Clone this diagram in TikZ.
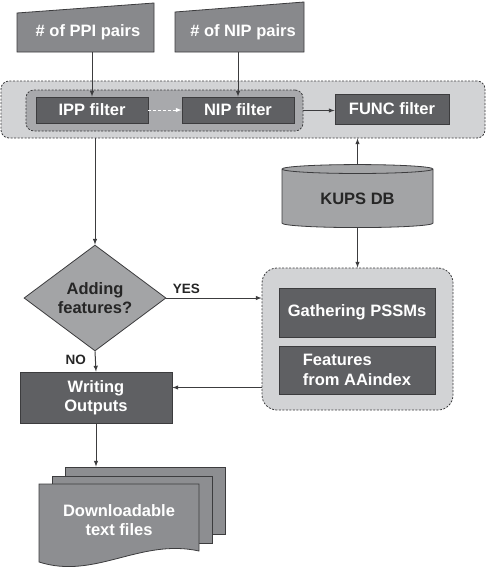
\documentclass[tikz,border=0pt]{standalone}
\usepackage{fontspec}
\setmainfont{Liberation Sans}
\usetikzlibrary{shapes.geometric}

\definecolor{edgec}{HTML}{3C3C3E}
\definecolor{boxdark}{HTML}{5F6063}
\definecolor{inputc}{HTML}{88898C}
\definecolor{grpl}{HTML}{D2D3D5}
\definecolor{grpm}{HTML}{A8A9AC}
\definecolor{dbc}{HTML}{A3A4A6}
\definecolor{docc}{HTML}{8D8E91}

\begin{document}
\begin{tikzpicture}[x=1pt, y=-1pt, >=latex,
  every node/.style={font=\fontsize{16.5}{19.5}\selectfont\bfseries, inner sep=0pt},
  proc/.style={draw=edgec, line width=0.8pt, fill=boxdark, text=white},
  group/.style={draw=edgec, line width=0.8pt, dash pattern=on 2pt off 1.5pt, rounded corners=8pt},
  sheet/.style={draw=edgec, line width=0.8pt, fill=docc, minimum width=160pt, minimum height=67pt},
  lbl/.style={font=\fontsize{13.5}{15}\selectfont\bfseries, text=black!85},
  flow/.style={->, draw=edgec, line width=1pt}]

  \useasboundingbox (0,0) rectangle (487,568);

  % inputs
  \filldraw[fill=inputc, draw=edgec, line width=0.8pt] (17,13) -- (154,3) -- (154,52) -- (17,52) -- cycle;
  \node[text=white, minimum width=137pt, minimum height=39pt] (ppi) at (88,32.5) {\# of PPI pairs};
  \filldraw[fill=inputc, draw=edgec, line width=0.8pt] (175,12) -- (304,2) -- (304,52) -- (175,52) -- cycle;
  \node[text=white, minimum width=129pt, minimum height=40pt] (nipin) at (243,32) {\# of NIP pairs};

  % filters
  \node[group, fill=grpl, minimum width=484pt, minimum height=57pt] (filters) at (243,109.5) {};
  \node[group, fill=grpm, minimum width=277pt, minimum height=41pt] (pair) at (164.5,110.5) {};
  \node[proc, minimum width=112pt, minimum height=26pt] (ipp) at (92,110) {IPP filter};
  \node[proc, minimum width=112pt, minimum height=26pt] (nip) at (238,110) {NIP filter};
  \node[proc, minimum width=114pt, minimum height=30pt] (func) at (392,109) {FUNC filter};

  % database and features
  \node[cylinder, shape border rotate=90, aspect=0.12, draw=edgec, line width=0.8pt, fill=dbc,
        text=black!85, minimum width=151pt, minimum height=63pt] (db) at (357.5,198.5) {KUPS DB};
  \node[group, fill=grpl, rounded corners=15pt, minimum width=191pt, minimum height=142pt] (feat) at (357.5,339) {};
  \node[proc, minimum width=156pt, minimum height=49pt] (pssm) at (357,312.5) {Gathering PSSMs};
  \node[proc, align=left, minimum width=156pt, minimum height=48pt] (aaidx) at (357,370) {Features\\from AAindex};

  % decision and output
  \node[diamond, draw=edgec, line width=0.8pt, fill=dbc, text=black!85, align=center,
        minimum width=142pt, minimum height=92pt] (ask) at (95,298) {Adding\\features?};
  \node[proc, align=center, minimum width=152pt, minimum height=51pt] (out) at (96,397.5) {Writing\\Outputs};

  \node[sheet] (sheet3) at (145,500.5) {};
  \node[sheet] (sheet2) at (132,509.5) {};
  \filldraw[fill=docc, draw=edgec, line width=0.8pt] (39,484) -- (199,484) -- (199,551)
    .. controls (140,538) and (95,580) .. (39,562) -- cycle;
  \node[text=white, align=center] (docs) at (119,520) {Downloadable\\text files};

  % connectors
  \draw[flow] (ppi.south -| ipp.north) -- (ipp.north);
  \draw[flow] (nipin.south -| nip.north) -- (nip.north);
  \draw[->, white, line width=1pt, dash pattern=on 3pt off 2pt] (ipp.east) -- (nip.west);
  \draw[flow] (pair.east) -- (pair.east -| func.west);
  \draw[flow] (db.north) -- (db.north |- filters.south);
  \draw[flow] (db.south) -- (feat.north);
  \draw[flow] (filters.south -| ask.north) -- (ask.north);
  \draw[flow] (ask.east) -- node[lbl, anchor=south west, pos=0, xshift=6pt, yshift=4pt] (yes) {YES} (ask.east -| feat.west);
  \draw[flow] (ask.south) -- node[lbl, anchor=east, pos=0.4, xshift=-9pt] (no) {NO} (out.north);
  \draw[flow] ([yshift=10pt]out.east -| feat.west) -- ([yshift=10pt]out.east);
  \draw[flow] (out.south) -- (out.south |- sheet3.north);
\end{tikzpicture}
\end{document}
